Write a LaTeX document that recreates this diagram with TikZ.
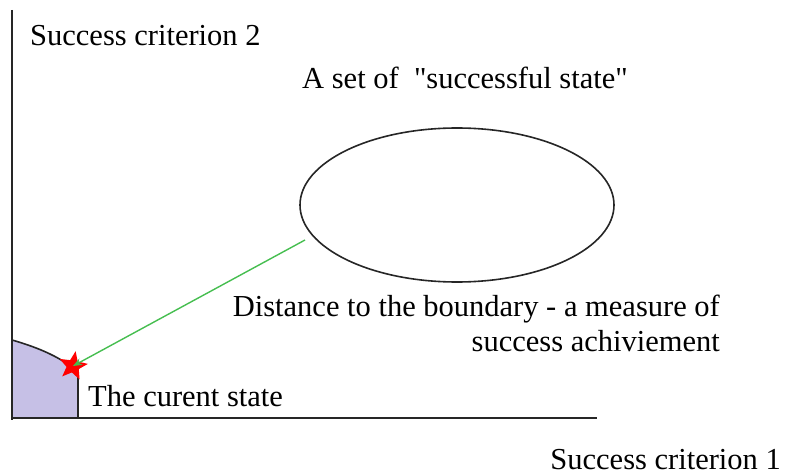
\documentclass[tikz,border=0pt]{standalone}
\usepackage{fontspec}
\setmainfont{Liberation Serif}[Ligatures=TeXOff]
\usetikzlibrary{shapes.geometric,arrows.meta}
\definecolor{linegreen}{RGB}{70,190,80}
\definecolor{regionfill}{RGB}{198,192,230}
\tikzset{
  lbl/.style={font=\fontsize{30.5}{34}\selectfont, inner sep=0pt},
  axis/.style={line width=1.8pt, black!85},
  bound/.style={line width=1.6pt, black!85},
}
\begin{document}
\begin{tikzpicture}[x=1pt,y=-1pt]
\useasboundingbox (0,0) rectangle (785,476);
% shaded region
\fill[regionfill] (12,340) .. controls (40,348) and (62,358) .. (78,372) -- (78,418) -- (12,418) -- cycle;
\draw[bound] (12,340) .. controls (40,348) and (62,358) .. (78,372) -- (78,418);
% axes
\draw[axis] (12,10) -- (12,420);
\draw[axis] (12,418) -- (597,418);
% ellipse
\node[draw, bound, ellipse, minimum width=314, minimum height=154, inner sep=0pt] (set) at (457,205) {};
% star
\node[star, star points=5, star point ratio=2.3, fill=red, minimum size=30, inner sep=0pt, rotate=-10] (cur) at (73,366) {};
\coordinate (p) at (305,240);
\draw[linegreen, line width=1.4pt, -{Stealth[length=9pt,width=7pt]}] (p) -- (cur.center);
% labels
\node[lbl, anchor=base west] (c2) at (30,46) {Success criterion 2};
\node[lbl, anchor=base west] (sl) at (302,89) {A set of \ "successful state"};
\node[lbl, anchor=base east] (d1) at (720,316) {Distance to the boundary - a measure of};
\node[lbl, anchor=base east] (d2) at (720,351) {success achiviement};
\node[lbl, anchor=base west] (cs) at (88,406) {The curent state};
\node[lbl, anchor=base east] (c1) at (781,469) {Success criterion 1};
\end{tikzpicture}
\end{document}
